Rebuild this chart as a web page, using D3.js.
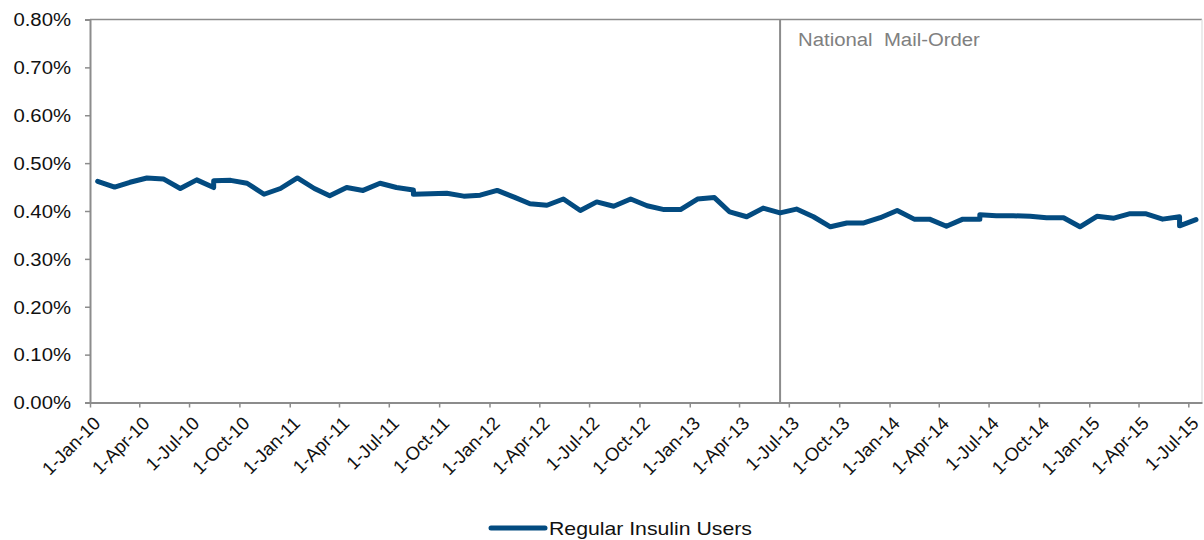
<!DOCTYPE html>
<html>
<head>
<meta charset="utf-8">
<script src="https://cdn.jsdelivr.net/npm/d3@7"></script>
<style>
  html, body { margin: 0; padding: 0; background: #fff; }
  svg { display: block; font-family: "Liberation Sans", Arial, sans-serif; }
</style>
</head>
<body>
<svg id="chart" width="1204" height="540"></svg>
<script>
// Monthly share of regular insulin users (percent); repeated dates mark series restatements
const dates = [
  "2010-01-15","2010-02-15","2010-03-15","2010-04-15","2010-05-15","2010-06-15","2010-07-15","2010-08-15","2010-08-15","2010-09-15","2010-10-15","2010-11-15","2010-12-15",
  "2011-01-15","2011-02-15","2011-03-15","2011-04-15","2011-05-15","2011-06-15","2011-07-15","2011-08-15","2011-08-15","2011-09-15","2011-10-15","2011-11-15","2011-12-15",
  "2012-01-15","2012-02-15","2012-03-15","2012-04-15","2012-05-15","2012-06-15","2012-07-15","2012-08-15","2012-09-15","2012-10-15","2012-11-15","2012-12-15",
  "2013-01-15","2013-02-15","2013-03-15","2013-04-15","2013-05-15","2013-06-15","2013-07-15","2013-08-15","2013-09-15","2013-10-15","2013-11-15","2013-12-15",
  "2014-01-15","2014-02-15","2014-03-15","2014-04-15","2014-05-15","2014-06-15","2014-06-15","2014-07-15","2014-08-15","2014-09-15","2014-10-15","2014-11-15","2014-12-15",
  "2015-01-15","2015-02-15","2015-03-15","2015-04-15","2015-05-15","2015-06-15","2015-06-15","2015-07-15"
];
const insulinPct = [
  0.462,0.450,0.460,0.469,0.467,0.447,0.465,0.449,0.463,0.464,0.458,0.435,0.447,
  0.469,0.447,0.432,0.449,0.443,0.458,0.449,0.444,0.435,0.436,0.437,0.431,0.433,
  0.443,0.429,0.415,0.412,0.425,0.401,0.419,0.410,0.425,0.411,0.403,0.403,
  0.425,0.428,0.398,0.388,0.406,0.396,0.404,0.388,0.367,0.375,0.375,0.386,
  0.401,0.383,0.383,0.368,0.383,0.383,0.392,0.390,0.390,0.389,0.386,0.386,0.367,
  0.389,0.385,0.394,0.394,0.383,0.388,0.369,0.382
];
const seriesName = "Regular Insulin Users";
const yTicks = [0, 0.1, 0.2, 0.3, 0.4, 0.5, 0.6, 0.7, 0.8];
const xDomain = ["2010-01-01", "2015-07-26"];
const eventDate = "2013-06-15";
const eventLabel = "National\u00a0 Mail-Order";

const parse = d3.utcParse("%Y-%m-%d");
const rows = dates.map((d, i) => ({ date: parse(d), value: insulinPct[i] }));

const svg = d3.select("#chart");
const margin = { left: 90, right: 2, top: 19.5, bottom: 137.5 };
const W = 1204, H = 540;
const FONT = 18;      // label size
const STRETCH = 1.13; // horizontal labels are set slightly wide

const x = d3.scaleUtc()
  .domain(xDomain.map(parse))
  .range([margin.left, W - margin.right]);
const y = d3.scaleLinear()
  .domain([0, 0.8])
  .range([H - margin.bottom, margin.top]);

const axisColor = "#8c8c8c";
const blue = "#034b80";

// plot frame: top and right edges
svg.append("path")
  .attr("d", `M${x.range()[0]},${y(0.8)}H${x.range()[1]}`)
  .attr("fill", "none")
  .attr("stroke", axisColor)
  .attr("stroke-width", 1.5);
svg.append("line")
  .attr("x1", x.range()[1]).attr("x2", x.range()[1])
  .attr("y1", y(0.8)).attr("y2", y(0))
  .attr("stroke", "#e4e4e4").attr("stroke-width", 1.5);

// y axis
const yAxis = svg.append("g")
  .attr("transform", `translate(${margin.left},0)`)
  .call(d3.axisLeft(y).tickValues(yTicks).tickSize(5)
    .tickFormat(d => d.toFixed(2) + "%"));
yAxis.select(".domain").attr("stroke", axisColor).attr("stroke-width", 2);
yAxis.selectAll(".tick line").attr("stroke", axisColor).attr("stroke-width", 1.5);
yAxis.selectAll(".tick text")
  .attr("font-size", FONT).attr("fill", "#111")
  .attr("font-family", "Liberation Sans, Arial, sans-serif")
  .attr("x", 0)
  .attr("dy", "0.35em")
  .attr("transform", `translate(-19,0) scale(${STRETCH},1)`);

// x axis, quarterly ticks
const xTicks = d3.utcMonth.every(3).range(parse("2010-01-01"), parse("2015-07-02"));
const xAxis = svg.append("g")
  .attr("transform", `translate(0,${y(0)})`)
  .call(d3.axisBottom(x).tickValues(xTicks).tickSize(5).tickSizeOuter(0)
    .tickFormat(d3.utcFormat("%-d-%b-%y")));
xAxis.select(".domain").attr("stroke", axisColor).attr("stroke-width", 2);
xAxis.selectAll(".tick line").attr("stroke", axisColor).attr("stroke-width", 1.5);
xAxis.selectAll(".tick text")
  .attr("font-size", 18.5).attr("fill", "#111")
  .attr("font-family", "Liberation Sans, Arial, sans-serif")
  .attr("text-anchor", "end")
  .attr("dy", null)
  .attr("y", 0)
  .attr("transform", "translate(11,22) rotate(-45)");

// event marker
svg.append("line")
  .attr("x1", x(parse(eventDate))).attr("x2", x(parse(eventDate)))
  .attr("y1", y(0.8)).attr("y2", y(0))
  .attr("stroke", axisColor).attr("stroke-width", 2);
svg.append("text")
  .attr("transform", `translate(${x(parse(eventDate)) + 18},${y(0.8) + 26}) scale(${STRETCH},1)`)
  .attr("font-size", FONT)
  .attr("fill", "#808080")
  .text(eventLabel);

// series line
const line = d3.line().x(d => x(d.date)).y(d => y(d.value));
svg.append("path")
  .datum(rows)
  .attr("d", line)
  .attr("fill", "none")
  .attr("stroke", blue)
  .attr("stroke-width", 5)
  .attr("stroke-linejoin", "round")
  .attr("stroke-linecap", "round");

// legend
const lg = svg.append("g").attr("transform", "translate(491,528)");
lg.append("line").attr("x1", 0).attr("x2", 54).attr("y1", 0).attr("y2", 0)
  .attr("stroke", blue).attr("stroke-width", 5).attr("stroke-linecap", "round");
lg.append("text")
  .attr("transform", "translate(58,6.5) scale(1.18,1)")
  .attr("font-size", FONT).attr("fill", "#111")
  .text(seriesName);
</script>
</body>
</html>
